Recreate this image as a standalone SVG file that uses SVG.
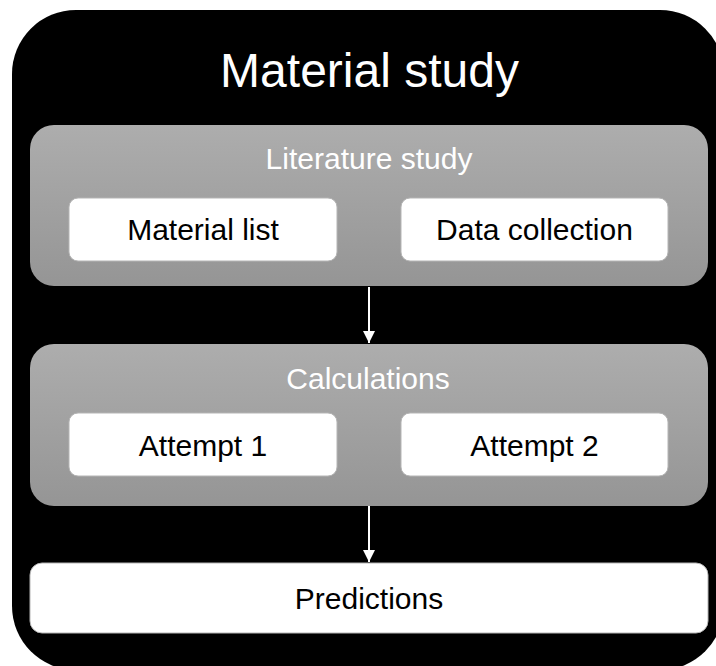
<svg xmlns="http://www.w3.org/2000/svg" width="716" height="666" viewBox="0 0 716 666">
  <defs>
    <linearGradient id="panelFill" x1="0" y1="0" x2="0" y2="1">
      <stop offset="0" stop-color="#adadad"/>
      <stop offset="1" stop-color="#959595"/>
    </linearGradient>
    <marker id="arrowHead" viewBox="0 0 10 10" refX="10" refY="5" markerWidth="6" markerHeight="6" markerUnits="strokeWidth" orient="auto">
      <path d="M0,0 L10,5 L0,10 Z" fill="#ffffff"/>
    </marker>
  </defs>
  <style>
    text { font-family: "Liberation Sans", Arial, sans-serif; text-anchor: middle; }
    .title { fill: #ffffff; font-size: 48px; }
    .panel { fill: url(#panelFill); }
    .panel-label { fill: #ffffff; font-size: 30px; }
    .box { fill: #ffffff; stroke: #b5b5b5; stroke-width: 1; }
    .box-label { fill: #000000; font-size: 30px; }
    .link { stroke: #ffffff; stroke-width: 2; fill: none; marker-end: url(#arrowHead); }
  </style>

  <g id="material-study">
    <rect x="12" y="10" width="712" height="660" rx="64" ry="64" fill="#000000"/>
    <text class="title" x="369.5" y="87">Material study</text>
  </g>

  <g id="literature-study">
    <rect class="panel" x="30" y="125" width="678" height="161" rx="24" ry="24"/>
    <text class="panel-label" x="369" y="169">Literature study</text>
  </g>

  <g id="material-list">
    <rect class="box" x="69" y="198" width="268" height="63" rx="9" ry="9"/>
    <text class="box-label" x="203" y="240">Material list</text>
  </g>

  <g id="data-collection">
    <rect class="box" x="401" y="198" width="267" height="63" rx="9" ry="9"/>
    <text class="box-label" x="534.5" y="240">Data collection</text>
  </g>

  <g id="calculations">
    <rect class="panel" x="30" y="344" width="678" height="162" rx="24" ry="24"/>
    <text class="panel-label" x="368" y="389">Calculations</text>
  </g>

  <g id="attempt-1">
    <rect class="box" x="69" y="413" width="268" height="63" rx="9" ry="9"/>
    <text class="box-label" x="203" y="456">Attempt 1</text>
  </g>

  <g id="attempt-2">
    <rect class="box" x="401" y="413" width="267" height="63" rx="9" ry="9"/>
    <text class="box-label" x="534.5" y="456">Attempt 2</text>
  </g>

  <g id="predictions">
    <rect class="box" x="30" y="563" width="678" height="70" rx="12" ry="12" stroke="#9a9a9a" stroke-width="1.5"/>
    <text class="box-label" x="369" y="609">Predictions</text>
  </g>

  <g id="connectors">
    <line class="link" x1="369" y1="287" x2="369" y2="343"/>
    <line class="link" x1="369" y1="506" x2="369" y2="562"/>
  </g>
</svg>
